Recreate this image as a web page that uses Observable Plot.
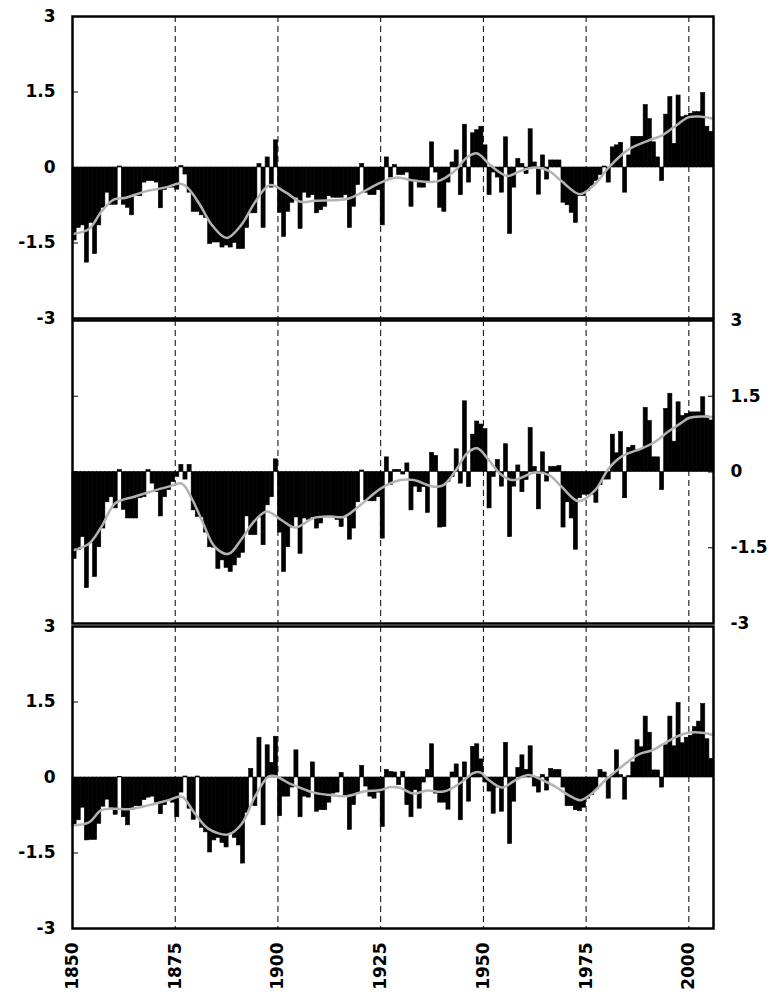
<!DOCTYPE html>
<html><head><meta charset="utf-8">
<script src="https://cdn.jsdelivr.net/npm/d3@7"></script>
<script src="https://cdn.jsdelivr.net/npm/@observablehq/plot@0.6"></script>
<style>
body{margin:0;background:#fff;}
#chart{position:relative;width:774px;height:997px;}
#chart svg{position:absolute;left:0;top:0;overflow:visible;}
</style></head><body><div id="chart"></div>
<script>
const firstYear = 1850;
const yTicks = [-3, -1.5, 0, 1.5, 3];
const xTicks = [1850, 1875, 1900, 1925, 1950, 1975, 2000];
const dashYears = [1875, 1900, 1925, 1950, 1975, 2000];

const panel1 = [
-1.45,-1.2,-1.15,-1.89,-1.1,-1.72,-1.15,-0.8,-0.5,-0.74,
-0.74,0.02,-0.74,-0.8,-0.95,-0.57,-0.57,-0.3,-0.27,-0.27,
-0.3,-0.81,-0.45,-0.4,-0.4,-0.44,0.03,-0.14,-0.5,-0.88,
-0.88,-0.95,-1.0,-1.52,-1.49,-1.49,-1.59,-1.55,-1.59,-1.5,
-1.62,-1.62,-1.2,-0.91,-0.91,0.07,-1.2,0.2,-0.4,0.54,
-0.9,-1.38,-0.88,-0.7,-0.6,-1.22,-0.5,-0.6,-0.55,-0.91,
-0.85,-0.78,-0.57,-0.6,-0.6,-0.6,-0.55,-1.2,-0.78,-0.35,
0.07,-0.5,-0.55,-0.55,-0.45,-1.15,0.2,-0.2,0.05,-0.15,
-0.15,-0.1,-0.78,-0.25,-0.4,-0.4,-0.3,0.5,-0.1,-0.8,
-0.88,-0.3,0.1,0.34,-0.55,0.85,-0.3,0.68,0.74,0.81,
0.44,-0.55,-0.1,-0.2,-0.5,0.6,-1.32,-0.4,0.17,0.07,
-0.13,0.76,0.1,-0.54,0.24,-0.24,0.14,0.14,0.14,-0.7,
-0.75,-0.9,-1.1,-0.57,-0.57,-0.47,-0.37,-0.27,-0.15,0.02,
-0.3,0.4,0.44,0.49,-0.5,0.24,0.61,0.61,0.61,1.24,
0.96,0.5,0.2,-0.27,1.05,1.4,0.47,1.43,1.0,1.03,
1.07,1.1,1.1,1.48,0.81,0.71
];
const panel2 = [
-1.72,-1.55,-1.29,-2.3,-1.4,-2.08,-1.49,-1.12,-0.6,-0.5,
-0.72,0.04,-0.75,-0.92,-0.92,-0.92,-0.52,-0.5,0.04,-0.23,
-0.4,-0.88,-0.5,-0.36,-0.2,-0.1,0.14,-0.15,0.14,-0.76,
-0.89,-0.9,-1.2,-1.49,-1.5,-1.92,-1.75,-1.9,-1.98,-1.85,
-1.7,-1.6,-0.88,-1.25,-1.25,-0.9,-1.45,-0.66,-0.5,0.25,
-1.2,-1.98,-1.49,-1.1,-0.9,-1.62,-0.92,-0.95,-0.9,-1.12,
-1.02,-0.9,-0.88,-0.88,-0.95,-1.09,-0.9,-1.34,-1.12,-0.6,
0.03,-0.56,-0.58,-0.58,-0.5,-1.32,0.29,-0.26,0.04,0.04,
-0.05,0.17,-0.76,-0.29,-0.4,-0.3,-0.81,0.38,0.32,-1.1,
-1.09,-0.2,-0.1,0.45,-0.23,1.4,-0.3,0.74,1.0,0.94,
0.85,-0.72,-0.1,0.24,-0.29,0.55,-1.29,-0.29,0.13,-0.4,
-0.16,0.87,0.1,-0.74,0.39,-0.19,0.1,0.1,0.12,-1.1,
-0.6,-0.92,-1.54,-0.52,-0.45,-0.45,-0.45,-0.61,-0.26,-0.15,
-0.15,0.74,0.37,0.79,-0.52,0.48,0.52,0.44,0.44,1.27,
1.01,0.29,0.29,-0.36,1.25,1.55,0.6,1.38,1.11,1.15,
1.18,1.18,1.18,1.48,1.1,1.02
];
const panel3 = [
-0.95,-0.85,-0.6,-1.25,-1.24,-1.24,-0.92,-0.58,-0.44,-0.6,
-0.74,0.01,-0.79,-0.95,-0.65,-0.57,-0.57,-0.45,-0.4,-0.38,
-0.5,-0.73,-0.55,-0.45,-0.5,-0.79,-0.3,0.02,-0.62,-0.84,
0.02,-1.0,-1.09,-1.49,-1.25,-1.2,-1.3,-1.39,-1.1,-1.2,
-1.35,-1.71,-0.7,0.17,-0.57,0.79,-0.95,0.64,0.29,0.81,
-0.77,-0.38,-0.38,-0.2,0.54,-0.79,-0.38,-0.4,0.3,-0.68,
-0.65,-0.65,-0.5,-0.32,-0.3,0.09,-0.38,-1.04,-0.55,-0.3,
0.23,-0.18,-0.38,-0.42,-0.3,-0.98,0.15,0.11,0.1,-0.15,
0.11,-0.55,-0.79,-0.25,-0.62,-0.1,0.15,0.66,-0.32,-0.5,
-0.5,-0.64,0.1,0.26,-0.85,0.3,-0.48,0.61,0.66,0.36,
-0.1,-0.28,-0.72,-0.2,-0.68,0.69,-1.32,-0.48,0.19,0.44,
0.15,0.62,-0.18,-0.3,0.05,-0.26,0.17,0.15,0.15,-0.2,
-0.57,-0.57,-0.65,-0.67,-0.6,-0.42,-0.35,-0.25,0.15,0.1,
-0.42,0.05,0.54,0.05,-0.44,0.03,0.3,0.74,0.6,1.21,
0.89,0.14,0.14,-0.2,0.64,1.21,0.62,1.48,0.68,0.79,
0.83,1.0,1.11,1.46,0.76,0.37
];

const smoothYears1 = [1850,1854,1857,1860,1863,1868,1873,1876,1878,1881,1884,1887.5,1891,1894.5,1898,1902,1905.5,1909,1917,1921,1925,1929,1933,1939,1943,1946,1948.5,1951,1954,1956,1959,1962.5,1966,1969,1973.5,1977,1980.5,1985,1990,1993.5,1996.5,2000,2003,2006];
const smoothValues1 = [-1.32,-1.22,-0.88,-0.64,-0.6,-0.47,-0.39,-0.32,-0.4,-0.74,-1.15,-1.4,-1.15,-0.68,-0.35,-0.5,-0.68,-0.66,-0.62,-0.47,-0.3,-0.2,-0.26,-0.27,-0.07,0.2,0.28,0.1,-0.1,-0.17,-0.07,0,-0.07,-0.27,-0.53,-0.34,0,0.34,0.53,0.64,0.81,1.0,1.01,0.97];
const smoothYears2 = [1850,1854,1857,1860.4,1865,1869,1873.4,1876.6,1879,1881.5,1884.7,1888,1891.2,1894.4,1897.3,1901,1904.2,1908.7,1912.8,1916,1920,1925,1929.8,1933,1937.9,1940.3,1943.6,1946,1948.5,1951.3,1954,1957,1962.6,1966,1969,1973.2,1977.2,1980.5,1983.7,1988.6,1991.8,1995,1998.3,2000,2003.2,2006];
const smoothValues2 = [-1.55,-1.42,-1.09,-0.62,-0.49,-0.39,-0.29,-0.23,-0.52,-0.96,-1.49,-1.62,-1.32,-0.96,-0.78,-0.96,-1.1,-0.91,-0.88,-0.89,-0.66,-0.33,-0.16,-0.16,-0.29,-0.26,0.07,0.37,0.47,0.24,-0.03,-0.16,-0.01,-0.06,-0.29,-0.58,-0.36,0.07,0.31,0.47,0.6,0.8,0.98,1.07,1.1,1.09];
const smoothYears3 = [1850,1854,1857,1860.4,1863.6,1867,1870,1873.4,1876.6,1879.8,1883.1,1888,1891.2,1894.4,1897.7,1899.3,1902.6,1904.7,1908.7,1912.8,1916.8,1920.9,1924.9,1927.4,1929.8,1933,1936.3,1940.3,1944.4,1947.6,1949.3,1951.3,1954.5,1957.8,1961,1964.3,1967.5,1970.7,1973.6,1976.4,1979.7,1983.7,1987.8,1991,1994.3,1997.5,2000,2003.2,2006];
const smoothValues3 = [-0.95,-0.89,-0.65,-0.62,-0.63,-0.58,-0.52,-0.45,-0.38,-0.72,-1.02,-1.13,-0.92,-0.38,0.02,0.03,-0.11,-0.18,-0.3,-0.35,-0.37,-0.28,-0.25,-0.19,-0.21,-0.32,-0.26,-0.28,-0.11,0.09,0.1,-0.05,-0.2,-0.05,0.05,-0.05,-0.18,-0.35,-0.45,-0.32,-0.05,0.22,0.46,0.54,0.69,0.83,0.89,0.89,0.84];

const W = 774, H = 997;
const FONT = {background: "transparent", fontFamily: "'DejaVu Sans', sans-serif", fontSize: "17px", fontWeight: "bold", color: "black"};

function panel(values, sYears, sValues, top, bottom, side, showX) {
  const bars = values.map((v, i) => ({x1: firstYear + i, x2: firstYear + i + 1, v}));
  const line = sYears.map((y, i) => ({x: y, v: sValues[i]}));
  const marks = [
    Plot.rectY(bars, {x1: "x1", x2: "x2", y: "v", fill: "black", stroke: "black", strokeWidth: 0.6}),
    Plot.ruleX(dashYears, {stroke: "black", strokeWidth: 1, strokeDasharray: "6,4"}),
    Plot.line(line, {x: "x", y: "v", stroke: "#b3b3b3", strokeWidth: 2.5, curve: "catmull-rom"}),
    Plot.axisY({anchor: "left", ticks: yTicks, tickSize: -6, tickFormat: () => "", label: null}),
    Plot.axisY({anchor: side, ticks: yTicks, tickSize: 0, tickPadding: 17, tickFormat: d => String(d), label: null}),
    Plot.frame({stroke: "black", strokeWidth: 2.5})
  ];
  if (side === "right") marks.push(Plot.axisY({anchor: "right", ticks: yTicks, tickSize: -6, tickFormat: () => "", label: null}));
  if (showX) marks.push(Plot.axisX({ticks: xTicks, tickFormat: d => String(d), tickRotate: -90, tickSize: 0, tickPadding: 14, label: null}));
  else marks.push(Plot.axisX({ticks: [], tickSize: 0, label: null}));
  return Plot.plot({
    width: W, height: H,
    marginLeft: 72, marginRight: 61, marginTop: top, marginBottom: H - bottom,
    x: {domain: [1850, 2006]},
    y: {domain: [-3, 3]},
    style: FONT,
    marks
  });
}

const chart = document.getElementById("chart");
chart.appendChild(panel(panel1, smoothYears1, smoothValues1, 16, 318, "left", false));
chart.appendChild(panel(panel2, smoothYears2, smoothValues2, 320, 623, "right", false));
chart.appendChild(panel(panel3, smoothYears3, smoothValues3, 626, 928, "left", true));
</script></body></html>
